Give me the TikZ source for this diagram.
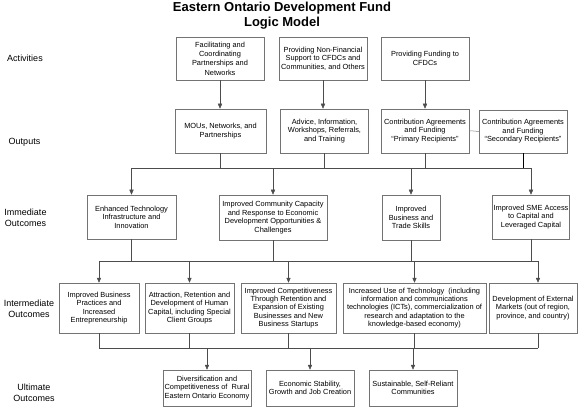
\documentclass[tikz,border=0pt]{standalone}
\usepackage{fontspec}
\setmainfont{Liberation Sans}
\usetikzlibrary{arrows.meta,calc}
\tikzset{
  box/.style={draw=black!55, line width=0.5pt, fill=white, align=center, inner sep=1pt,
    font=\fontsize{7.4}{8.5}\selectfont},
  rowlabel/.style={align=center, inner sep=0pt, font=\fontsize{9}{11.5}\selectfont},
  titletext/.style={inner sep=0pt, font=\fontsize{13}{15}\selectfont\bfseries},
  wire/.style={draw=black!70, line width=0.5pt},
  arrowwire/.style={wire, -{Triangle[length=5pt,width=4.2pt]}},
}
\begin{document}
\begin{tikzpicture}[x=1pt,y=-1pt]
\useasboundingbox (0,0) rectangle (588,419);
% title
\node[titletext] (t1) at (282,8) {Eastern Ontario Development Fund};
\node[titletext] (t2) at (282,23.5) {Logic Model};
% row labels
\node[rowlabel] (lab1) at (25,58) {Activities};
\node[rowlabel] (lab2) at (24.5,142) {Outputs};
\node[rowlabel] (lab3) at (25.5,218) {Immediate\\Outcomes};
\node[rowlabel] (lab4) at (29,309) {Intermediate\\Outcomes};
\node[rowlabel] (lab5) at (34,393) {Ultimate\\Outcomes};
% activities
\node[box, minimum width=88pt, minimum height=43pt, font=\fontsize{7.4}{9.3}\selectfont] (A1) at (220,58.5) {Facilitating and\\Coordinating\\Partnerships and\\Networks};
\node[box, minimum width=88pt, minimum height=43pt] (A2) at (323,58.5) {Providing Non-Financial\\Support to CFDCs and\\Communities, and Others};
\node[box, minimum width=88pt, minimum height=43pt] (A3) at (425,58.5) {Providing Funding to\\CFDCs};
% outputs
\node[box, minimum width=91pt, minimum height=44pt] (O1) at (220.5,131) {MOUs, Networks, and\\Partnerships};
\node[box, minimum width=88pt, minimum height=44pt] (O2) at (324.5,131) {Advice, Information,\\Workshops, Referrals,\\and Training};
\node[box, minimum width=88pt, minimum height=44pt] (O3) at (425,131) {Contribution Agreements\\and Funding\\“Primary Recipients”};
\node[box, minimum width=88pt, minimum height=43pt] (O4) at (523,131.5) {Contribution Agreements\\and Funding\\“Secondary Recipients”};
% immediate outcomes
\node[box, minimum width=89pt, minimum height=44pt] (I1) at (131.5,217) {Enhanced Technology\\Infrastructure and\\Innovation};
\node[box, minimum width=108pt, minimum height=45pt] (I2) at (273,217.5) {Improved Community Capacity\\and Response to Economic\\Development Opportunities \&\\Challenges};
\node[box, minimum width=58pt, minimum height=45pt] (I3) at (411,217.5) {Improved\\Business and\\Trade Skills};
\node[box, minimum width=74pt, minimum height=44pt] (I4) at (531,217) {Improved SME Access\\to Capital and\\Leveraged Capital};
% intermediate outcomes
\node[box, minimum width=80pt, minimum height=50pt] (M1) at (99,308) {Improved Business\\Practices and\\Increased\\Entrepreneurship};
\node[box, minimum width=88.5pt, minimum height=50pt] (M2) at (189.5,308) {Attraction, Retention and\\Development of Human\\Capital, including Special\\Client Groups};
\node[box, minimum width=95pt, minimum height=50pt, font=\fontsize{7.4}{8.2}\selectfont] (M3) at (288.5,308) {Improved Competitiveness\\Through Retention and\\Expansion of Existing\\Businesses and New\\Business Startups};
\node[box, minimum width=143pt, minimum height=50pt, font=\fontsize{7.4}{8.1}\selectfont] (M4) at (414.5,308) {Increased Use of Technology\ \ (including\\information and communications\\technologies (ICTs), commercialization of\\research and adaptation to the\\knowledge-based economy)};
\node[box, minimum width=88pt, minimum height=50pt] (M5) at (533,308) {Development of External\\Markets (out of region,\\province, and country)};
% ultimate outcomes
\node[box, minimum width=88pt, minimum height=36pt] (U1) at (207,388) {Diversification and\\Competitiveness of\ \ Rural\\Eastern Ontario Economy};
\node[box, minimum width=88pt, minimum height=36pt] (U2) at (310,388) {Economic Stability,\\Growth and Job Creation};
\node[box, minimum width=88pt, minimum height=36pt] (U3) at (413,388) {Sustainable, Self-Reliant\\Communities};
% activities -> outputs
\draw[arrowwire] (A1.south) -- (A1.south |- O1.north);
\draw[arrowwire] (A2.south) -- (A2.south |- O2.north);
\draw[arrowwire] (A3.south) -- (A3.south |- O3.north);
\draw[wire, draw=black!50] (O3.east) -- ++(4,0) -- (O4.west);
% bus 1
\coordinate (bus1) at (0,168);
\coordinate (m5a) at ($(M5.north)+(5,0)$);
\draw[wire] (O1.south) -- (O1.south |- bus1);
\draw[wire] (O2.south) -- (O2.south |- bus1);
\draw[wire] (O3.south) -- (O3.south |- bus1);
\draw[draw=black, line width=0.8pt] (O4.south) -- (O4.south |- bus1);
\draw[wire] (I1.north |- bus1) -- (I4.north |- bus1);
\draw[arrowwire] (I1.north |- bus1) -- (I1.north);
\draw[arrowwire] (I2.north |- bus1) -- (I2.north);
\draw[arrowwire] (I3.north |- bus1) -- (I3.north);
\draw[arrowwire] (I4.north |- bus1) -- (I4.north);
% bus 2
\coordinate (bus2) at (0,261);
\draw[wire] (I1.south) -- (I1.south |- bus2);
\draw[wire] (I2.south) -- (I2.south |- bus2);
\draw[wire] (I3.south) -- (I3.south |- bus2);
\draw[wire] (I4.south) -- (I4.south |- bus2);
\draw[wire] (M1.north |- bus2) -- (m5a |- bus2);
\draw[arrowwire] (M1.north |- bus2) -- (M1.north);
\draw[arrowwire] (M2.north |- bus2) -- (M2.north);
\draw[arrowwire] (M3.north |- bus2) -- (M3.north);
\draw[arrowwire] (M4.north |- bus2) -- (M4.north);
\draw[arrowwire] (m5a |- bus2) -- (m5a);
% bus 3
\coordinate (bus3) at (0,348);
\draw[wire] (M1.south) -- (M1.south |- bus3);
\draw[wire] (M2.south) -- (M2.south |- bus3);
\draw[wire] (M3.south) -- (M3.south |- bus3);
\draw[wire] (M4.south) -- (M4.south |- bus3);
\draw[wire] (m5a |- M5.south) -- (m5a |- bus3);
\draw[wire] (M1.south |- bus3) -- (m5a |- bus3);
\draw[arrowwire] (U1.north |- bus3) -- (U1.north);
\draw[arrowwire] (U2.north |- bus3) -- (U2.north);
\draw[arrowwire] (U3.north |- bus3) -- (U3.north);
\end{tikzpicture}
\end{document}
